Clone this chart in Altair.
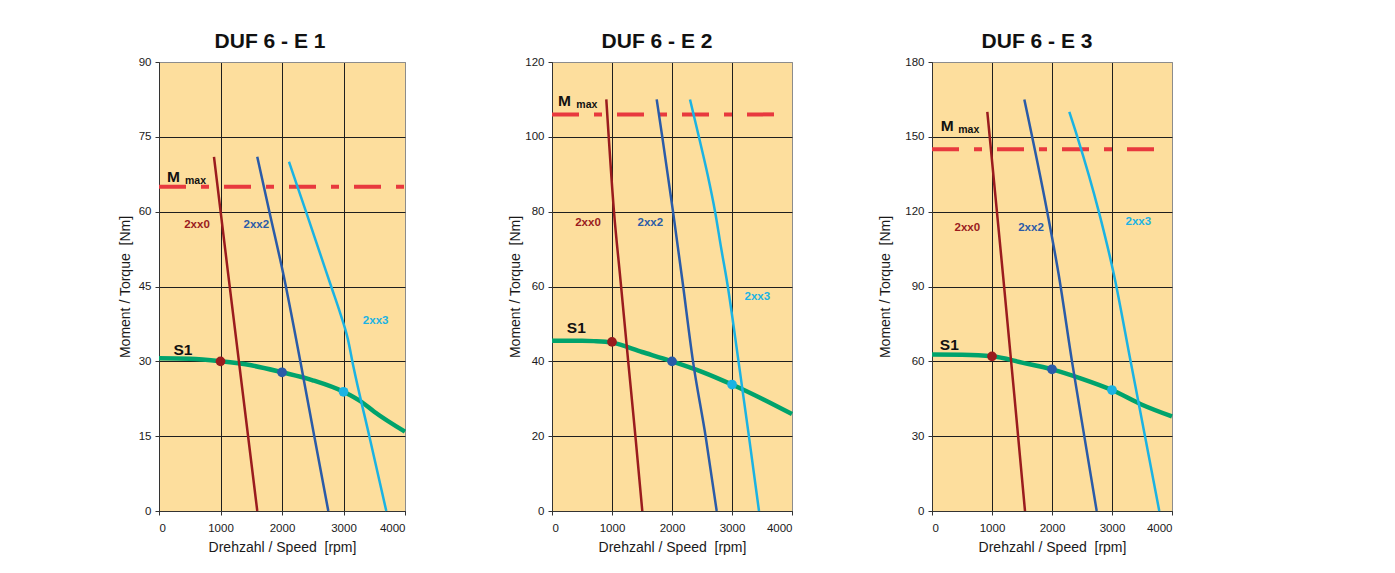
import altair as alt
import pandas as pd

FONT = "Liberation Sans"

TITLES = ["DUF 6 - E 1", "DUF 6 - E 2", "DUF 6 - E 3"]
Y_MAX = [90, 120, 180]
Y_STEP = [15, 20, 30]
X_TICKS = [0, 1000, 2000, 3000, 4000]
X_TITLE = "Drehzahl / Speed\u00a0 [rpm]"
Y_TITLE = "Moment / Torque\u00a0 [Nm]"

SERIES = ["2xx0", "2xx2", "2xx3"]
SERIES_COLORS = ["#9A1B1E", "#2A5BA8", "#1BB3E3"]
S1_COLOR = "#00A36C"
MMAX_COLOR = "#E8393E"
BG = "#FDDE9D"
GRID = "#1E1E1E"
EDGE = "#8C8C8C"

# torque limit M max per panel and where the dashed line stops
M_MAX = [65, 106, 145]
M_MAX_END = [4000, 3750, 3750]
M_LABEL_X = [130, 100, 145]
M_LABEL_Y = [65.9, 108.3, 152.4]
MAX_LABEL_X = [423, 405, 438]
MAX_LABEL_Y = [65.5, 107.7, 151.5]

POINT_SPEED = [1000, 2000, 3000]

# ---------- DUF 6 - E 1
E1_2XX0_SPEED = [894, 1120, 1598]
E1_2XX0_TORQUE = [71, 48, 0]
E1_2XX2_SPEED = [1598, 1795, 2030, 2298, 2525, 2753]
E1_2XX2_TORQUE = [71, 60, 47, 30, 15, 0]
E1_2XX3_SPEED = [2114, 2390, 2800, 2950, 3070, 3160, 3420, 3696]
E1_2XX3_TORQUE = [70, 60, 45, 39.5, 34.5, 29, 15, 0]
E1_S1_SPEED = [0, 500, 1000, 1500, 2000, 2500, 3000, 3300, 3500, 4000]
E1_S1_TORQUE = [30.6, 30.5, 30.0, 29.2, 27.8, 26.2, 23.9, 21.8, 19.9, 15.9]
E1_POINT_TORQUE = [30.0, 27.8, 23.9]
E1_LABEL_X = [618, 1583, 3523]
E1_LABEL_Y = [57.3, 57.3, 38.1]
E1_S1_LABEL = [390, 32.3]

# ---------- DUF 6 - E 2
E2_2XX0_SPEED = [905, 1033, 1140, 1270, 1390, 1505]
E2_2XX0_TORQUE = [110, 80, 62, 40, 20, 0]
E2_2XX2_SPEED = [1745, 1838, 2017, 2170, 2350, 2560, 2745]
E2_2XX2_TORQUE = [110, 100, 80, 62, 40, 20, 0]
E2_2XX3_SPEED = [2300, 2448, 2592, 2718, 2822, 2920, 3100, 3273, 3450]
E2_2XX3_TORQUE = [110, 100, 90, 80, 70, 61, 41, 21, 0]
E2_S1_SPEED = [0, 500, 700, 1000, 1500, 2000, 2500, 3000, 3500, 4000]
E2_S1_TORQUE = [45.5, 45.5, 45.4, 45.0, 42.5, 40.0, 37.2, 33.8, 30.0, 25.9]
E2_POINT_TORQUE = [45.2, 40.0, 33.8]
E2_LABEL_X = [600, 1638, 3422]
E2_LABEL_Y = [76.9, 76.9, 57.2]
E2_S1_LABEL = [405, 49]

# ---------- DUF 6 - E 3
E3_2XX0_SPEED = [922, 1188, 1370, 1550]
E3_2XX0_TORQUE = [160, 93.5, 47, 0]
E3_2XX2_SPEED = [1539, 1920, 2110, 2333, 2538, 2745]
E3_2XX2_TORQUE = [165, 120, 95, 60, 30, 0]
E3_2XX3_SPEED = [2288, 2422, 2780, 3030, 3310, 3550, 3788]
E3_2XX3_TORQUE = [160, 150, 120, 95, 60, 30, 0]
E3_S1_SPEED = [0, 500, 1000, 1500, 2000, 2500, 3000, 3500, 4000]
E3_S1_TORQUE = [62.7, 62.6, 62.0, 59.5, 56.8, 53.0, 48.5, 42.6, 37.9]
E3_POINT_TORQUE = [62.0, 56.8, 48.5]
E3_LABEL_X = [589, 1650, 3438]
E3_LABEL_Y = [113.6, 113.6, 115.8]
E3_S1_LABEL = [288, 66.7]

PANEL_WIDTHS = [246, 240, 240]
PANEL_HEIGHT = 449
Y_TITLE_PAD = [6, 2, 12]
TITLE_DX = [-12, -15, -15]

PANELS = [
    dict(curves=[(E1_2XX0_SPEED, E1_2XX0_TORQUE), (E1_2XX2_SPEED, E1_2XX2_TORQUE), (E1_2XX3_SPEED, E1_2XX3_TORQUE)],
         s1=(E1_S1_SPEED, E1_S1_TORQUE), pts=E1_POINT_TORQUE, lab=(E1_LABEL_X, E1_LABEL_Y), s1lab=E1_S1_LABEL),
    dict(curves=[(E2_2XX0_SPEED, E2_2XX0_TORQUE), (E2_2XX2_SPEED, E2_2XX2_TORQUE), (E2_2XX3_SPEED, E2_2XX3_TORQUE)],
         s1=(E2_S1_SPEED, E2_S1_TORQUE), pts=E2_POINT_TORQUE, lab=(E2_LABEL_X, E2_LABEL_Y), s1lab=E2_S1_LABEL),
    dict(curves=[(E3_2XX0_SPEED, E3_2XX0_TORQUE), (E3_2XX2_SPEED, E3_2XX2_TORQUE), (E3_2XX3_SPEED, E3_2XX3_TORQUE)],
         s1=(E3_S1_SPEED, E3_S1_TORQUE), pts=E3_POINT_TORQUE, lab=(E3_LABEL_X, E3_LABEL_Y), s1lab=E3_S1_LABEL),
]

color_scale = alt.Scale(domain=SERIES, range=SERIES_COLORS)


def make_panel(i, p):
    ymax = Y_MAX[i]
    xaxis = alt.Axis(
        values=X_TICKS, format="d", title=X_TITLE, labelPadding=7, titlePadding=7,
        gridColor={"condition": {"test": "datum.value >= 4000", "value": EDGE}, "value": GRID},
    )
    yaxis = alt.Axis(
        values=list(range(0, ymax + 1, Y_STEP[i])), format="d", title=Y_TITLE,
        titlePadding=Y_TITLE_PAD[i],
        gridColor={"condition": {"test": "datum.value >= %d" % ymax, "value": EDGE}, "value": GRID},
    )
    X = alt.X("speed:Q", scale=alt.Scale(domain=[0, 4000], nice=False), axis=xaxis)
    Y = alt.Y("torque:Q", scale=alt.Scale(domain=[0, ymax], nice=False), axis=yaxis)

    rows = []
    for name, (sp, tq) in zip(SERIES, p["curves"]):
        for s, t in zip(sp, tq):
            rows.append({"speed": s, "torque": t, "series": name})
    curves_df = pd.DataFrame(rows)
    s1_df = pd.DataFrame({"speed": p["s1"][0], "torque": p["s1"][1]})
    pts_df = pd.DataFrame({"speed": POINT_SPEED, "torque": p["pts"], "series": SERIES})
    lab_df = pd.DataFrame({"speed": p["lab"][0], "torque": p["lab"][1], "series": SERIES})
    mmax_df = pd.DataFrame({"speed": [0, M_MAX_END[i]], "torque": [M_MAX[i], M_MAX[i]]})
    s1lab_df = pd.DataFrame({"speed": [p["s1lab"][0]], "torque": [p["s1lab"][1]], "t": ["S1"]})
    mlab_df = pd.DataFrame({"speed": [M_LABEL_X[i]], "torque": [M_LABEL_Y[i]], "t": ["M"]})
    maxlab_df = pd.DataFrame({"speed": [MAX_LABEL_X[i]], "torque": [MAX_LABEL_Y[i]], "t": ["max"]})

    s1_line = alt.Chart(s1_df).mark_line(color=S1_COLOR, strokeWidth=4.5, interpolate="monotone").encode(x=X, y=Y)
    mmax_line = alt.Chart(mmax_df).mark_line(
        color=MMAX_COLOR, strokeWidth=4, strokeDash=[27, 15, 8, 15], strokeCap="butt"
    ).encode(x=X, y=Y)
    curve_lines = alt.Chart(curves_df).mark_line(strokeWidth=2.5, interpolate="monotone").encode(
        x=X, y=Y, color=alt.Color("series:N", scale=color_scale, legend=None)
    )
    points = alt.Chart(pts_df).mark_circle(size=95, opacity=1).encode(
        x=X, y=Y, color=alt.Color("series:N", scale=color_scale, legend=None)
    )
    labels = alt.Chart(lab_df).mark_text(font=FONT, fontSize=11.5, fontWeight="bold", align="center", baseline="middle").encode(
        x=X, y=Y, text="series:N", color=alt.Color("series:N", scale=color_scale, legend=None)
    )
    s1_text = alt.Chart(s1lab_df).mark_text(font=FONT, fontSize=15.5, fontWeight="bold", align="center", baseline="middle", color="#111111").encode(
        x=X, y=Y, text="t:N"
    )
    m_text = alt.Chart(mlab_df).mark_text(font=FONT, fontSize=15.5, fontWeight="bold", align="left", baseline="alphabetic", color="#111111").encode(
        x=X, y=Y, text="t:N"
    )
    max_text = alt.Chart(maxlab_df).mark_text(font=FONT, fontSize=10.5, fontWeight="bold", align="left", baseline="alphabetic", color="#111111").encode(
        x=X, y=Y, text="t:N"
    )

    return alt.layer(s1_line, mmax_line, curve_lines, points, labels, s1_text, m_text, max_text).properties(
        width=PANEL_WIDTHS[i],
        height=PANEL_HEIGHT,
        title=alt.TitleParams(TITLES[i], font=FONT, fontSize=21, fontWeight="bold", anchor="middle", dx=TITLE_DX[i], color="#111111"),
    )


panels = [make_panel(i, p) for i, p in enumerate(PANELS)]

left_pair = alt.hconcat(panels[0], panels[1], spacing=147, bounds="flush")
chart = alt.hconcat(left_pair, panels[2], spacing=76, bounds="full").properties(
    padding={"left": 109, "top": 22, "right": 5, "bottom": 5},
    background="white",
).configure_view(
    fill=BG, stroke=EDGE, strokeWidth=1
).configure_axis(
    domainColor="#333333", tickColor="#333333", gridOpacity=1, gridWidth=1,
    labelFont=FONT, labelFontSize=11.5, labelColor="#1A1A1A", labelPadding=4, tickSize=4,
    titleFont=FONT, titleFontSize=14, titleFontWeight="normal", titleColor="#1A1A1A",
)

chart.save("out.html", embed_options={"renderer": "svg", "actions": False})
